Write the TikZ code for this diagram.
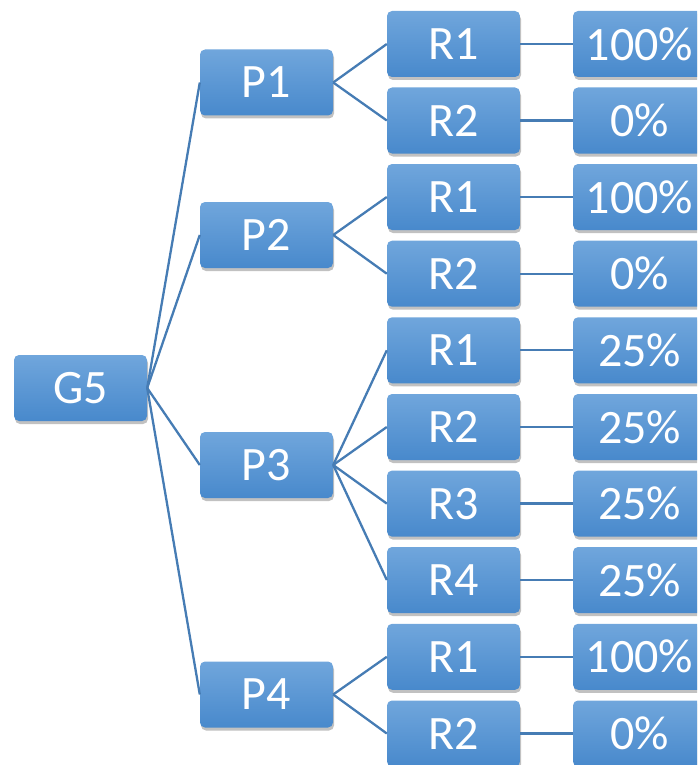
\documentclass[tikz,border=0pt]{standalone}
\usepackage{fontspec}
\setmainfont{Carlito}
\usetikzlibrary{shadows}
\definecolor{boxtop}{RGB}{112,166,220}
\definecolor{boxbot}{RGB}{72,137,204}
\definecolor{linec}{RGB}{70,124,180}
\tikzset{
  box/.style={rectangle, rounded corners=5pt, minimum width=133pt, minimum height=66pt,
    inner sep=0pt, top color=boxtop, bottom color=boxbot, draw=none,
    text=white, font=\fontsize{48}{48}\selectfont,
    drop shadow={shadow xshift=1pt, shadow yshift=-3pt, opacity=0.35, fill=black!70}},
  conn/.style={draw=linec, line width=2.3pt}
}
\begin{document}
\begin{tikzpicture}[x=1pt,y=-1pt]
\useasboundingbox (0,0) rectangle (697,765);
\clip (0,0) rectangle (697,765);
% root
\node[box] (g) at (80.5,388) {G5};
% P level
\node[box] (p1) at (266.5,82.5) {P1};
\node[box] (p2) at (266.5,235) {P2};
\node[box] (p3) at (266.5,465) {P3};
\node[box] (p4) at (266.5,694.5) {P4};
% R level
\node[box] (r11) at (453.5,44) {R1};
\node[box] (r12) at (453.5,120.5) {R2};
\node[box] (r21) at (453.5,197) {R1};
\node[box] (r22) at (453.5,273.7) {R2};
\node[box] (r31) at (453.5,350.3) {R1};
\node[box] (r32) at (453.5,427) {R2};
\node[box] (r33) at (453.5,503.6) {R3};
\node[box] (r34) at (453.5,580) {R4};
\node[box] (r41) at (453.5,656.8) {R1};
\node[box] (r42) at (453.5,733.5) {R2};
% percent level
\node[box] (v11) at (639.5,44) {100\%};
\node[box] (v12) at (639.5,120.5) {0\%};
\node[box] (v21) at (639.5,197) {100\%};
\node[box] (v22) at (639.5,273.7) {0\%};
\node[box] (v31) at (639.5,350.3) {25\%};
\node[box] (v32) at (639.5,427) {25\%};
\node[box] (v33) at (639.5,503.6) {25\%};
\node[box] (v34) at (639.5,580) {25\%};
\node[box] (v41) at (639.5,656.8) {100\%};
\node[box] (v42) at (639.5,733.5) {0\%};
% connectors
\begin{scope}[on background layer/.style={}]
\foreach \p in {p1,p2,p3,p4} \draw[conn] (g.east) -- (\p.west);
\foreach \r in {r11,r12} \draw[conn] (p1.east) -- (\r.west);
\foreach \r in {r21,r22} \draw[conn] (p2.east) -- (\r.west);
\foreach \r in {r31,r32,r33,r34} \draw[conn] (p3.east) -- (\r.west);
\foreach \r in {r41,r42} \draw[conn] (p4.east) -- (\r.west);
\foreach \i in {11,12,21,22,31,32,33,34,41,42} \draw[conn] (r\i.east) -- (v\i.west);
\end{scope}
\end{tikzpicture}
\end{document}
